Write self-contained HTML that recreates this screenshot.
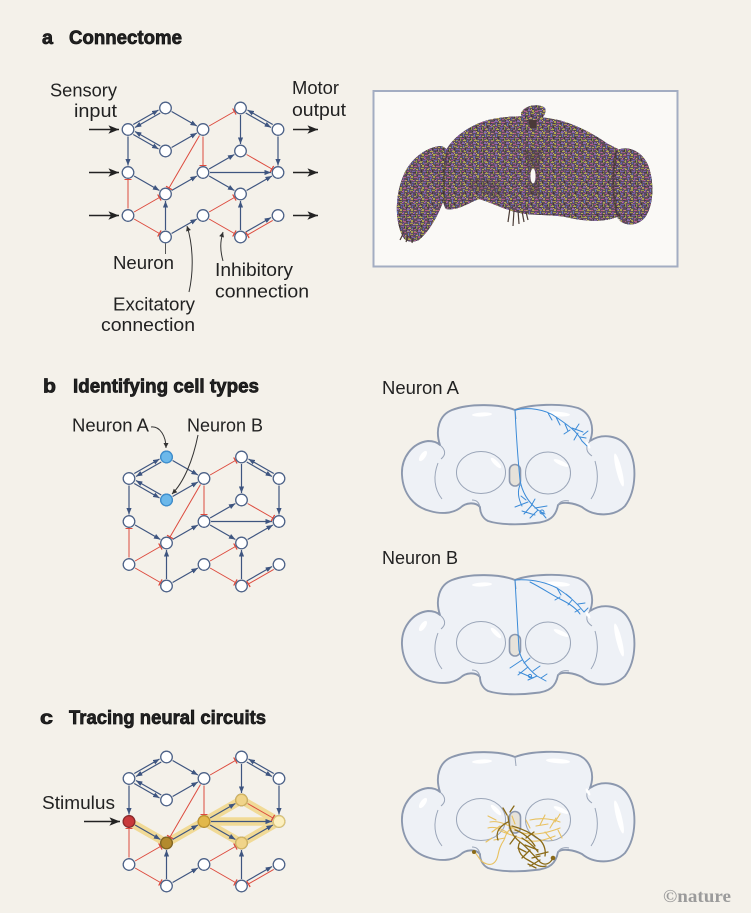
<!DOCTYPE html>
<html><head><meta charset="utf-8"><style>
html,body{margin:0;padding:0;background:#f4f1ea;}
svg{display:block;}
text{font-family:"Liberation Sans",Arial,sans-serif;fill:#222;}
</style></head><body>
<svg width="751" height="913" viewBox="0 0 751 913" xmlns="http://www.w3.org/2000/svg">
<defs>
<marker id="ah" viewBox="0 0 10 8" refX="10" refY="4" markerWidth="6.5" markerHeight="5.2" markerUnits="userSpaceOnUse" orient="auto"><path d="M0,0 L10,4 L0,8 Z" fill="#3e5580"/></marker>
<marker id="tb" viewBox="0 0 2 10" refX="1" refY="5" markerWidth="1.4" markerHeight="7" markerUnits="userSpaceOnUse" orient="auto"><rect x="0" y="0" width="2" height="10" fill="#dd4b3e"/></marker>
<marker id="bh" viewBox="0 0 10 8" refX="10" refY="4" markerWidth="11" markerHeight="8.5" markerUnits="userSpaceOnUse" orient="auto"><path d="M0,0 L10,4 L0,8 L2.5,4 Z" fill="#222"/></marker>
<marker id="ph" viewBox="0 0 10 10" refX="10" refY="5" markerWidth="6" markerHeight="5" markerUnits="userSpaceOnUse" orient="auto"><path d="M0,0 L10,5 L0,10 Z" fill="#333"/></marker>
<pattern id="tex" width="11" height="11" patternUnits="userSpaceOnUse">
 <rect width="11" height="11" fill="#5e4e60"/>
 <rect x="0" y="0" width="3" height="1" fill="#8a6ab0"/>
 <rect x="4" y="0" width="2" height="2" fill="#aca34c"/>
 <rect x="7" y="1" width="3" height="1" fill="#b85886"/>
 <rect x="1" y="2" width="1" height="3" fill="#6474b8"/>
 <rect x="3" y="3" width="3" height="1" fill="#9e9a44"/>
 <rect x="7" y="3" width="1" height="2" fill="#8058a6"/>
 <rect x="9" y="4" width="2" height="1" fill="#b8ac54"/>
 <rect x="0" y="6" width="2" height="1" fill="#a85282"/>
 <rect x="3" y="5" width="1" height="2" fill="#463834"/>
 <rect x="5" y="6" width="3" height="1" fill="#7260aa"/>
 <rect x="9" y="6" width="1" height="3" fill="#8e9646"/>
 <rect x="1" y="8" width="3" height="1" fill="#b4a850"/>
 <rect x="5" y="8" width="1" height="2" fill="#5868aa"/>
 <rect x="7" y="9" width="2" height="1" fill="#a45e88"/>
 <rect x="0" y="10" width="2" height="1" fill="#7e62a0"/>
 <rect x="3" y="10" width="1" height="1" fill="#c4b860"/>
 <rect x="10" y="10" width="1" height="1" fill="#4a3c34"/>
 <rect x="6" y="4" width="1" height="1" fill="#c46896"/>
 <rect x="2" y="7" width="1" height="1" fill="#90a64a"/>
 <rect x="8" y="7" width="1" height="1" fill="#443632"/>
</pattern>
<pattern id="tex2" width="7" height="7" patternUnits="userSpaceOnUse">
 <rect x="1" y="0" width="2" height="1" fill="#c0b45a" opacity="0.6"/>
 <rect x="4" y="2" width="1" height="2" fill="#9462b8" opacity="0.6"/>
 <rect x="0" y="4" width="2" height="1" fill="#3a302c" opacity="0.55"/>
 <rect x="5" y="5" width="2" height="1" fill="#c872a0" opacity="0.5"/>
</pattern>

<g id="edges" fill="none" stroke-width="1.2">
 <g stroke="#3e5580" marker-end="url(#ah)">
  <path d="M133.25,124.52 L158.55,110.02"/>
  <path d="M160.25,112.98 L134.95,127.48"/>
  <path d="M160.25,146.02 L134.95,131.52"/>
  <path d="M133.25,134.48 L158.55,148.98"/>
  <path d="M171.6,111.5 L196.9,126"/>
  <path d="M171.6,147.5 L196.9,133"/>
  <path d="M272.75,124.52 L247.45,110.02"/>
  <path d="M245.75,112.98 L271.05,127.48"/>
  <path d="M240.5,115 L240.5,144"/>
  <path d="M278,136.5 L278,165.5"/>
  <path d="M128,136.5 L128,165.5"/>
  <path d="M134.1,176 L159.4,190.5"/>
  <path d="M165.5,230 L165.5,201"/>
  <path d="M171.6,190.5 L196.9,176"/>
  <path d="M209.1,169 L234.4,154.5"/>
  <path d="M210,172.5 L271,172.5"/>
  <path d="M209.1,176 L234.4,190.5"/>
  <path d="M246.6,190.5 L271.9,176"/>
  <path d="M171.6,233.5 L196.9,219"/>
  <path d="M240.5,230 L240.5,201"/>
  <path d="M245.75,232.02 L271.05,217.52"/>
 </g>
 <g stroke="#dd4b3e" stroke-width="1" marker-end="url(#tb)">
  <path d="M209.1,126 L234.4,111.5"/>
  <path d="M246.6,154.5 L271.9,169"/>
  <path d="M203,136.5 L203,165.5"/>
  <path d="M199.5,135.55 L169.0,187.95"/>
  <path d="M128,208.5 L128,179.5"/>
  <path d="M134.1,212 L159.4,197.5"/>
  <path d="M134.1,219 L159.4,233.5"/>
  <path d="M209.1,212 L234.4,197.5"/>
  <path d="M209.1,219 L234.4,233.5"/>
  <path d="M272.75,220.48 L247.45,234.98"/>
 </g>
</g>
<g id="nodes" fill="#ffffff" stroke="#4d6288" stroke-width="1.3">
 <circle cx="128" cy="129.5" r="5.8"/><circle cx="165.5" cy="108" r="5.8"/><circle cx="165.5" cy="151" r="5.8"/>
 <circle cx="203" cy="129.5" r="5.8"/><circle cx="240.5" cy="108" r="5.8"/><circle cx="278" cy="129.5" r="5.8"/>
 <circle cx="240.5" cy="151" r="5.8"/><circle cx="128" cy="172.5" r="5.8"/><circle cx="203" cy="172.5" r="5.8"/>
 <circle cx="278" cy="172.5" r="5.8"/><circle cx="165.5" cy="194" r="5.8"/><circle cx="240.5" cy="194" r="5.8"/>
 <circle cx="128" cy="215.5" r="5.8"/><circle cx="203" cy="215.5" r="5.8"/><circle cx="278" cy="215.5" r="5.8"/>
 <circle cx="165.5" cy="237" r="5.8"/><circle cx="240.5" cy="237" r="5.8"/>
</g>

<g id="brain">
 <path d="M515,410 C530,404 562,403 578,408 C591,413 595,428 590,441 C602,433 620,435 628,448 C637,462 637,490 625,506 C614,517 594,517 582,507 C574,503 562,501 558,505 C556,516 550,522 535,523 C520,525 500,525 488,521 C482,518 480,512 480,507 C476,502 466,502 460,508 C452,514 440,514 430,511 C414,507 403,494 402,475 C401,458 412,443 428,441 C434,441 438,443 440,445 C435,430 439,415 452,410 C470,403 500,404 515,410 Z" fill="#eef1f6" stroke="#8c98ae" stroke-width="1.9" stroke-linejoin="round"/>
 <g fill="none" stroke="#9aa5b8" stroke-width="1">
  <path d="M515,410 L516,419"/>
  <path d="M440,445 C446,450 446,455 441,459"/>
  <path d="M438,463 C433,476 434,489 442,499"/>
  <path d="M590,441 C585,447 586,452 592,456"/>
  <path d="M595,461 C599,475 598,489 591,499"/>
  <path d="M480,507 C479,502 476,500 472,500"/>
  <path d="M558,505 C560,501 565,500 569,501"/>
  <ellipse cx="481" cy="472.5" rx="24.5" ry="21"/>
  <ellipse cx="548" cy="473" rx="22.5" ry="21"/>
 </g>
 <g fill="#ffffff">
  <ellipse cx="482" cy="414.5" rx="10" ry="2" transform="rotate(-3 482 414.5)"/>
  <ellipse cx="558" cy="414" rx="12" ry="2.3" transform="rotate(4 558 414)"/>
  <ellipse cx="423" cy="456" rx="2.6" ry="6" transform="rotate(35 423 456)"/>
  <ellipse cx="619" cy="470" rx="2.8" ry="17" transform="rotate(-14 619 470)"/>
  <ellipse cx="496" cy="463" rx="2.2" ry="7" transform="rotate(-45 496 463)"/>
  <ellipse cx="561" cy="463" rx="8" ry="2.2" transform="rotate(25 561 463)"/>
  <ellipse cx="588" cy="445" rx="1.5" ry="4" transform="rotate(-30 588 445)"/>
 </g>
 <rect x="509.5" y="464.5" width="11" height="21.5" rx="5.5" fill="#e6e2da" stroke="#8c98ae" stroke-width="1.6"/>
</g>
</defs>

<!-- ===== Panel a ===== -->
<text x="42" y="44" font-size="19" font-weight="bold" stroke="#111" stroke-width="0.7" textLength="11" lengthAdjust="spacingAndGlyphs">a</text>
<text x="69" y="44" font-size="19" font-weight="bold" stroke="#111" stroke-width="0.7" textLength="113" lengthAdjust="spacingAndGlyphs">Connectome</text>

<text x="50" y="96.5" font-size="18.5" textLength="67" lengthAdjust="spacingAndGlyphs">Sensory</text>
<text x="74" y="117" font-size="18.5" textLength="43" lengthAdjust="spacingAndGlyphs">input</text>
<text x="292" y="94" font-size="18.5" textLength="47" lengthAdjust="spacingAndGlyphs">Motor</text>
<text x="292" y="116" font-size="18.5" textLength="54" lengthAdjust="spacingAndGlyphs">output</text>
<text x="113" y="269" font-size="18.5" textLength="61" lengthAdjust="spacingAndGlyphs">Neuron</text>
<text x="113" y="310.5" font-size="18.5" textLength="82" lengthAdjust="spacingAndGlyphs">Excitatory</text>
<text x="101" y="331" font-size="18.5" textLength="94" lengthAdjust="spacingAndGlyphs">connection</text>
<text x="215" y="276" font-size="18.5" textLength="78" lengthAdjust="spacingAndGlyphs">Inhibitory</text>
<text x="215" y="297.5" font-size="18.5" textLength="94" lengthAdjust="spacingAndGlyphs">connection</text>

<g stroke="#222" stroke-width="1.6" marker-end="url(#bh)">
 <path d="M89,129.5 L119,129.5"/><path d="M89,172.5 L119,172.5"/><path d="M89,215.5 L119,215.5"/>
 <path d="M293,129.5 L318,129.5"/><path d="M293,172.5 L318,172.5"/><path d="M293,215.5 L318,215.5"/>
</g>
<path d="M165.5,243.5 L165.5,254" stroke="#555" stroke-width="1"/>
<g fill="none" stroke="#333" stroke-width="1" marker-end="url(#ph)">
 <path d="M189,292 C194,270 193,245 187,226"/>
 <path d="M223,261 C220,250 220,242 223,232"/>
</g>
<use href="#edges"/>
<use href="#nodes"/>

<!-- brain image box -->
<rect x="373.5" y="91" width="304" height="175.5" fill="#faf9f6" stroke="#a3adc2" stroke-width="2"/>
<g>
 <g id="blobshapes">
 <path d="M403,237 C395,222 394,195 405,172 C413,157 427,147 441,146 C453,149 453,168 448,186 C443,206 433,228 419,240 C412,243 406,242 403,237 Z"/>
 <path d="M445,152 C452,138 468,126 488,120 C508,115 540,115 562,121 C582,127 598,137 608,144 L618,149 C622,170 622,200 619,216 C605,223 585,221 570,218 C555,214 535,216 520,213 C505,210 490,202 479,199 C468,203 458,211 446,209 C438,195 439,170 445,152 Z"/>
 <path d="M616,151 C625,145 641,149 648,165 C655,183 653,206 646,216 C640,225 628,227 620,221 C613,200 611,170 616,151 Z"/>
 <path d="M521,113 C525,105 538,103 545,108 C547,115 541,121 532,122 C526,121 521,118 521,113 Z"/>
 </g>
 <use href="#blobshapes" fill="url(#tex)"/>
 <use href="#blobshapes" fill="url(#tex2)"/>
 <path d="M528,120 L530,128 L536,128 L537,120 Z" fill="#4a3a38"/>
 <path d="M522,150 C528,158 530,175 528,195 L540,195 C538,175 538,158 544,150 Z" fill="#4a3c3a" opacity="0.4"/>
 <path d="M470,180 C480,175 495,178 505,190 L500,200 C490,195 478,192 470,190 Z" fill="#4a3c3a" opacity="0.25"/>
 <path d="M616,152 C612,175 612,200 619,219" fill="none" stroke="#3e302c" stroke-width="2.2" opacity="0.6"/>
 <path d="M447,152 C443,175 443,195 446,208" fill="none" stroke="#3e302c" stroke-width="2.2" opacity="0.5"/>
 <g stroke="#4a3c36" stroke-width="1.2">
  <path d="M510,208 L508,222"/><path d="M514,210 L513,226"/><path d="M518,210 L519,224"/><path d="M522,211 L524,222"/><path d="M526,212 L528,220"/>
  <path d="M404,232 L400,240"/><path d="M408,236 L406,242"/><path d="M413,238 L412,243"/>
 </g>
 <ellipse cx="533" cy="176" rx="2.6" ry="7.5" fill="#faf9f6"/>
</g>

<!-- ===== Panel b ===== -->
<text x="43" y="392.5" font-size="19" font-weight="bold" stroke="#111" stroke-width="0.7" textLength="13" lengthAdjust="spacingAndGlyphs">b</text>
<text x="73" y="392.5" font-size="19" font-weight="bold" stroke="#111" stroke-width="0.7" textLength="186" lengthAdjust="spacingAndGlyphs">Identifying cell types</text>
<text x="72" y="431.5" font-size="18.5" textLength="77" lengthAdjust="spacingAndGlyphs">Neuron A</text>
<text x="187" y="431.5" font-size="18.5" textLength="76" lengthAdjust="spacingAndGlyphs">Neuron B</text>
<g transform="translate(1,349)">
 <use href="#edges"/>
 <use href="#nodes"/>
 <circle cx="165.5" cy="108" r="5.8" fill="#6cb8ea" stroke="#3d8fcf" stroke-width="1.3"/>
 <circle cx="165.5" cy="151" r="5.8" fill="#6cb8ea" stroke="#3d8fcf" stroke-width="1.3"/>
</g>
<g fill="none" stroke="#333" stroke-width="1" marker-end="url(#ph)">
 <path d="M151,427 C160,426 166,436 166,448"/>
 <path d="M198,435 C193,460 184,482 172,494"/>
</g>

<text x="382" y="394" font-size="18.5" textLength="77" lengthAdjust="spacingAndGlyphs">Neuron A</text>
<use href="#brain"/>
<g fill="none" stroke="#3b8bd8" stroke-width="1" stroke-linecap="round">
 <path d="M515,410 C516,430 518,460 520,480 C522,492 528,502 538,510 L545,514"/>
 <path d="M520,485 C517,492 519,500 522,506"/>
 <path d="M515,410 C528,407 545,409 556,417 C566,424 576,430 582,441"/>
 <path d="M556,417 L560,425 M565,424 L568,431 M572,428 L583,432 M578,433 L574,440 M580,437 L586,438 M582,441 L587,446 M570,430 L564,434 M575,430 L579,424 M548,413 L552,420 M583,435 L588,431"/>
 <path d="M528,502 L515,507 M532,505 L524,514 M538,510 L530,518 M541,512 L546,518 M535,508 L547,506 M522,511 L535,515 M526,500 L521,496 M531,506 L535,499"/>
 <circle cx="542" cy="512" r="2"/>
</g>

<text x="382" y="564" font-size="18.5" textLength="76" lengthAdjust="spacingAndGlyphs">Neuron B</text>
<use href="#brain" transform="translate(0,170)"/>
<g fill="none" stroke="#3b8bd8" stroke-width="1" stroke-linecap="round">
 <path d="M515,580 C516,600 518,630 519,650 C521,660 527,668 537,676 L546,681"/>
 <path d="M515,580 C530,579 545,582 557,588 C568,595 577,603 584,612"/>
 <path d="M530,582 C542,588 552,595 562,600 C570,604 576,608 580,614"/>
 <path d="M557,588 L561,595 M566,594 L571,598 M572,600 L568,605 M578,604 L585,603 M580,609 L575,612 M584,612 L588,608 M560,597 L555,600"/>
 <path d="M522,660 L510,668 M528,667 L518,675 M533,671 L540,666 M537,676 L528,680 M541,678 L547,674 M519,672 L533,678 M524,663 L530,658"/>
 <circle cx="530" cy="676" r="1.6"/>
</g>

<!-- ===== Panel c ===== -->
<text x="40" y="724" font-size="19" font-weight="bold" stroke="#111" stroke-width="0.7" textLength="13" lengthAdjust="spacingAndGlyphs">c</text>
<text x="69" y="724" font-size="19" font-weight="bold" stroke="#111" stroke-width="0.7" textLength="197" lengthAdjust="spacingAndGlyphs">Tracing neural circuits</text>
<text x="42" y="809" font-size="18.5" textLength="73" lengthAdjust="spacingAndGlyphs">Stimulus</text>
<path d="M84,821.5 L120,821.5" stroke="#222" stroke-width="1.6" marker-end="url(#bh)"/>
<g fill="none" stroke="#f1d88e" stroke-width="8.5" stroke-linecap="round" stroke-linejoin="round" opacity="0.9">
 <path d="M129,821.5 L166.5,843 L204,821.5 L241.5,800 L279,821.5"/>
 <path d="M204,821.5 L279,821.5"/>
 <path d="M204,821.5 L241.5,843 L279,821.5"/>
</g>
<g transform="translate(1,649)">
 <use href="#edges"/>
 <use href="#nodes"/>
</g>
<g stroke-width="1.3">
 <circle cx="129" cy="821.5" r="5.8" fill="#c9393b" stroke="#8e2a2a"/>
 <circle cx="166.5" cy="843" r="5.8" fill="#b38a2e" stroke="#86661f"/>
 <circle cx="204" cy="821.5" r="5.8" fill="#e2b84a" stroke="#c09630"/>
 <circle cx="241.5" cy="800" r="5.8" fill="#f0d48a" stroke="#d4b562"/>
 <circle cx="241.5" cy="843" r="5.8" fill="#f0d48a" stroke="#d4b562"/>
 <circle cx="279" cy="821.5" r="5.8" fill="#fcf0c0" stroke="#dfc77a"/>
</g>

<use href="#brain" transform="translate(0,347)"/>
<g fill="none" stroke-linecap="round">
 <g stroke="#e8c160" stroke-width="1.1">
  <path d="M490,822 C500,820 510,826 520,832 C530,836 545,834 560,828"/>
  <path d="M474,852 C478,854 479,862 487,864 C494,866 497,860 498,855 C499,850 500,846 504,840 C506,834 508,830 512,828"/>
  <path d="M530,820 C538,818 550,818 560,822 M540,825 L545,815 M550,828 L556,818 M500,826 L492,832 M505,838 L494,840 M496,820 L488,816 M555,822 L560,814 M515,824 L512,816 M545,832 L552,840"/>
  <path d="M498,830 C505,833 515,836 525,840 C535,843 545,840 555,836"/>
  <path d="M488,828 C495,826 502,829 508,833 M536,826 L548,824 M558,830 L562,838 M492,838 L486,842 M530,828 L526,820"/>
 </g>
 <g stroke="#8a6a18" stroke-width="1.3">
  <path d="M508,816 C509,828 512,836 520,842 C528,848 534,856 540,862 C545,866 550,864 553,858"/>
  <path d="M520,842 C516,848 520,856 528,860 C535,864 540,868 546,866"/>
  <path d="M508,822 C500,826 495,832 498,840"/>
  <path d="M515,830 C522,832 530,838 535,846"/>
  <path d="M525,845 L538,850 M530,850 L522,858 M536,855 L548,852 M540,860 L530,866 M507,815 L503,808 M510,812 L514,806 M526,838 L534,832 M518,848 L526,852"/>
  <path d="M512,826 C520,828 530,832 540,840 C544,844 546,850 545,856"/>
  <path d="M522,838 C528,842 534,846 538,852 M516,836 L510,844 M532,858 L540,856 M528,864 L536,868"/>
 </g>
 <circle cx="474" cy="852" r="2" fill="#8a6a18" stroke="none"/>
 <circle cx="553" cy="858" r="2.3" fill="#8a6a18" stroke="none"/>
</g>

<text x="663" y="902" font-size="18" font-weight="bold" style="fill:#9b9b9b;font-family:'Liberation Serif',serif" textLength="68" lengthAdjust="spacingAndGlyphs">©nature</text>
</svg>
</body></html>
